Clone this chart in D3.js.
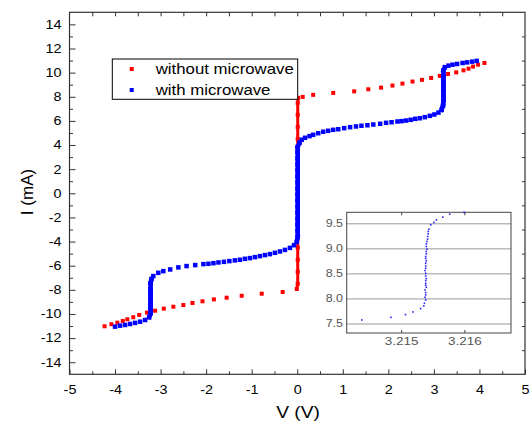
<!DOCTYPE html>
<html>
<head>
<meta charset="utf-8">
<script src="https://cdn.jsdelivr.net/npm/d3@7"></script>
<style>
  body { margin: 0; background: #fff; }
  text { font-family: "Liberation Sans", Arial, sans-serif; }
</style>
</head>
<body>
<svg id="chart" width="530" height="428"></svg>
<script>
'use strict';

// tick labels
const xTickVals = [-5, -4, -3, -2, -1, 0, 1, 2, 3, 4, 5];
const yTickVals = [-14, -12, -10, -8, -6, -4, -2, 0, 2, 4, 6, 8, 10, 12, 14];
const seriesNames = ['without microwave', 'with microwave'];

// without microwave (red)
const redV = [-4.23, -4.08, -3.95, -3.83, -3.73, -3.60, -3.47, -3.30, -3.12, -2.93, -2.72, -2.50, -2.30, -2.08,
  -1.83, -1.55, -1.22, -0.78, -0.32, -0.01,
  0.01, 0.01, 0.01, 0.01, 0.01, 0.01, 0.01, 0.01, 0.01, 0.01, 0.01, 0.01, 0.01, 0.01, 0.01, 0.01, 0.02,
  0.12, 0.35, 0.79, 1.25, 1.56, 1.84, 2.09, 2.31, 2.53, 2.74, 2.94, 3.13, 3.31, 3.49, 3.65, 3.76, 3.86, 3.97, 4.11];
const redI = [-11.02, -10.85, -10.72, -10.58, -10.44, -10.27, -10.08, -9.89, -9.73, -9.56, -9.40, -9.26, -9.09, -8.95,
  -8.79, -8.65, -8.49, -8.32, -8.18, -7.93,
  -7.5, -6.5, -5.5, -4.5, -3.5, -2.5, -1.5, -0.5, 0.5, 1.5, 2.5, 3.5, 4.5, 5.5, 6.5, 7.5, 7.91,
  7.99, 8.16, 8.32, 8.45, 8.62, 8.76, 8.93, 9.09, 9.26, 9.40, 9.56, 9.73, 9.89, 10.02, 10.19, 10.33, 10.50, 10.66, 10.80];

// with microwave (blue)
const blueV = [-4.00, -3.89, -3.78, -3.67, -3.56, -3.45, -3.34, -3.25,
  -3.22, -3.22, -3.22, -3.22, -3.22, -3.22, -3.22,
  -3.20, -3.16, -3.05, -2.94, -2.79, -2.61, -2.43, -2.24, -2.06, -1.95, -1.84, -1.73, -1.61, -1.49, -1.37,
  -1.26, -1.15, -1.04, -0.93, -0.82, -0.71, -0.60, -0.49, -0.38, -0.27, -0.16, -0.07, -0.01,
  0.01, 0.01, 0.01, 0.01, 0.01, 0.01, 0.01, 0.01, 0.01, 0.01, 0.01, 0.01, 0.01, 0.01, 0.01, 0.01,
  0.05, 0.10, 0.17, 0.27, 0.35, 0.46, 0.57, 0.68, 0.79, 0.90, 1.03, 1.16, 1.29, 1.41, 1.54, 1.67, 1.82,
  1.95, 2.07, 2.20, 2.29, 2.39, 2.49, 2.59, 2.69, 2.80, 2.91, 3.01, 3.10, 3.17, 3.20,
  3.21, 3.21, 3.21, 3.21, 3.21, 3.21, 3.21,
  3.24, 3.32, 3.41, 3.51, 3.63, 3.73, 3.84, 3.94];
const blueI = [-11.05, -10.97, -10.91, -10.83, -10.74, -10.64, -10.50, -10.27,
  -9.94, -9.55, -9.15, -8.75, -8.35, -7.95, -7.46,
  -7.11, -6.86, -6.59, -6.45, -6.31, -6.14, -6.03, -5.95, -5.87, -5.84, -5.79, -5.73, -5.68, -5.62, -5.56,
  -5.51, -5.43, -5.37, -5.29, -5.21, -5.12, -5.04, -4.93, -4.82, -4.69, -4.52, -4.30, -4.02,
  -3.61, -3.1, -2.6, -2.1, -1.6, -1.1, -0.6, -0.1, 0.4, 0.9, 1.4, 1.9, 2.4, 2.9, 3.4, 3.83,
  4.19, 4.44, 4.60, 4.74, 4.85, 4.98, 5.10, 5.18, 5.26, 5.31, 5.40, 5.48, 5.54, 5.60, 5.64, 5.70, 5.76,
  5.84, 5.89, 5.95, 5.98, 6.03, 6.09, 6.17, 6.22, 6.31, 6.42, 6.53, 6.69, 6.92, 7.27,
  7.7, 8.1, 8.5, 8.9, 9.3, 9.7, 10.17,
  10.44, 10.58, 10.66, 10.72, 10.80, 10.85, 10.91, 10.97];

// inset: zoom on the jump near 3.215 V
const insetV = [3.21437, 3.21483, 3.21506, 3.21518, 3.21530, 3.21535, 3.21536, 3.21538, 3.21537, 3.21538,
  3.21538, 3.21537, 3.21539, 3.21538, 3.21538, 3.21538, 3.21539, 3.21538, 3.21538, 3.21537, 3.21538,
  3.21538, 3.21538, 3.21539, 3.21538, 3.21538, 3.21539, 3.21539, 3.21540, 3.21539, 3.21539, 3.21540,
  3.21541, 3.21541, 3.21542, 3.21542, 3.21543, 3.21546, 3.21551, 3.21555, 3.21565, 3.21576, 3.21599];
const insetI = [7.580, 7.633, 7.687, 7.740, 7.807, 7.860, 7.913, 7.980, 8.033, 8.080,
  8.127, 8.180, 8.233, 8.273, 8.313, 8.367, 8.407, 8.460, 8.513, 8.567, 8.613,
  8.660, 8.713, 8.760, 8.807, 8.847, 8.900, 8.947, 8.993, 9.047, 9.100, 9.147,
  9.193, 9.247, 9.300, 9.347, 9.393, 9.480, 9.527, 9.580, 9.633, 9.693, 9.727];
const insetXTicks = [3.215, 3.216];
const insetYTicks = [7.5, 8.0, 8.5, 9.0, 9.5];

const SX = 1.2; // text in the picture is a little wider than tall

const svg = d3.select('#chart');
const x = d3.scaleLinear().domain([-5, 5]).range([69.5, 525]);
const y = d3.scaleLinear().domain([-15, 15]).range([374.3, 12.3]);

function stretch(sel, k) {
  sel.each(function () {
    const t = d3.select(this);
    const tx = +t.attr('x') || 0;
    t.attr('x', tx / k).attr('transform', `scale(${k},1)`);
  });
}

function styleAxis(g) {
  g.select('.domain').remove();
  g.selectAll('line').attr('stroke', '#333').attr('stroke-width', 1);
  g.selectAll('text').attr('fill', '#000').attr('font-size', 12);
}

const fmt = (d) => String(d);

// bottom
svg.append('g').attr('transform', `translate(0,${y(-15)})`)
  .call(d3.axisBottom(x).tickValues(d3.range(-4.5, 5, 1)).tickSizeInner(-3).tickSizeOuter(0).tickFormat(''))
  .call(styleAxis);
const gx = svg.append('g').attr('transform', `translate(0,${y(-15)})`)
  .call(d3.axisBottom(x).tickValues(xTickVals).tickSizeInner(-5).tickSizeOuter(0).tickPadding(11).tickFormat(fmt))
  .call(styleAxis);
stretch(gx.selectAll('text'), SX);

// left
svg.append('g').attr('transform', `translate(${x(-5)},0)`)
  .call(d3.axisLeft(y).tickValues(d3.range(-13, 15, 2)).tickSizeInner(-3.5).tickSizeOuter(0).tickFormat(''))
  .call(styleAxis);
const gy = svg.append('g').attr('transform', `translate(${x(-5)},0)`)
  .call(d3.axisLeft(y).tickValues(yTickVals).tickSizeInner(-6).tickSizeOuter(0).tickPadding(8).tickFormat(fmt))
  .call(styleAxis);
stretch(gy.selectAll('text'), SX);

// top and right, no labels
svg.append('g').attr('transform', `translate(0,${y(15)})`)
  .call(d3.axisTop(x).tickValues(d3.range(-4.5, 5, 0.5)).tickSizeInner(-4).tickSizeOuter(0).tickFormat(''))
  .call(styleAxis);
svg.append('g').attr('transform', `translate(${x(5)},0)`)
  .call(d3.axisRight(y).tickValues(d3.range(-13, 15, 2)).tickSizeInner(-3).tickSizeOuter(0).tickFormat(''))
  .call(styleAxis);

svg.append('rect')
  .attr('x', x(-5)).attr('y', y(15))
  .attr('width', x(5) - x(-5)).attr('height', y(-15) - y(15))
  .attr('fill', 'none').attr('stroke', '#333').attr('stroke-width', 1.2);

// axis titles
svg.append('text')
  .attr('x', 298 / SX).attr('y', 418)
  .attr('transform', `scale(${SX},1)`)
  .attr('text-anchor', 'middle').attr('font-size', 16)
  .text('V (V)');
svg.append('text')
  .attr('transform', 'translate(33,192) rotate(-90)')
  .attr('text-anchor', 'middle').attr('font-size', 17)
  .text('I (mA)');

// series
const plot = svg.append('g');

function drawSeries(vs, is, color, size, lw) {
  const pts = vs.map((v, i) => [x(v), y(is[i])]);
  // steep runs are dense in the data, draw them as a solid stroke
  const steep = d3.pairs(pts).filter(([a, b]) => Math.abs(b[1] - a[1]) > 2 * Math.abs(b[0] - a[0]));
  plot.append('g').selectAll('line').data(steep).join('line')
    .attr('x1', (d) => d[0][0]).attr('y1', (d) => d[0][1])
    .attr('x2', (d) => d[1][0]).attr('y2', (d) => d[1][1])
    .attr('stroke', color).attr('stroke-width', lw).attr('stroke-linecap', 'square');
  plot.append('g').selectAll('rect').data(pts).join('rect')
    .attr('x', (d) => d[0] - size / 2).attr('y', (d) => d[1] - size / 2)
    .attr('width', size).attr('height', size)
    .attr('fill', color);
}

drawSeries(redV, redI, '#ff0000', 4, 3);
drawSeries(blueV, blueI, '#0000ff', 4.5, 4.5);

// legend
const leg = svg.append('g');
leg.append('rect')
  .attr('x', 112.3).attr('y', 59).attr('width', 185.4).attr('height', 40.3)
  .attr('fill', '#fff').attr('stroke', '#000').attr('stroke-width', 1);
[['#ff0000', 69, 74.3], ['#0000ff', 90, 95]].forEach(([c, my, ty], i) => {
  leg.append('rect').attr('x', 129.7).attr('y', my - 2).attr('width', 4).attr('height', 4).attr('fill', c);
  leg.append('text')
    .attr('x', 155.7 / SX).attr('y', ty)
    .attr('transform', `scale(${SX},1)`)
    .attr('font-size', 14)
    .text(seriesNames[i]);
});

// inset
const ix = d3.scaleLinear().domain([3.21413, 3.21673]).range([346.7, 511]);
const iy = d3.scaleLinear().domain([7.32, 9.73]).range([333, 212.3]);
const inset = svg.append('g');
inset.append('rect')
  .attr('x', ix.range()[0]).attr('y', iy.range()[1])
  .attr('width', ix.range()[1] - ix.range()[0]).attr('height', iy.range()[0] - iy.range()[1])
  .attr('fill', '#fff');
inset.append('g').selectAll('line').data(insetYTicks).join('line')
  .attr('x1', ix.range()[0]).attr('x2', ix.range()[1])
  .attr('y1', (d) => iy(d)).attr('y2', (d) => iy(d))
  .attr('stroke', '#999').attr('stroke-width', 1);
inset.append('g').selectAll('line').data(insetXTicks).join('line')
  .attr('x1', (d) => ix(d)).attr('x2', (d) => ix(d))
  .attr('y1', iy.range()[0]).attr('y2', iy.range()[0] - 3)
  .attr('stroke', '#444');
inset.append('g').selectAll('line').data(insetXTicks).join('line')
  .attr('x1', (d) => ix(d)).attr('x2', (d) => ix(d))
  .attr('y1', iy.range()[1]).attr('y2', iy.range()[1] + 3)
  .attr('stroke', '#444');
inset.append('rect')
  .attr('x', ix.range()[0]).attr('y', iy.range()[1])
  .attr('width', ix.range()[1] - ix.range()[0]).attr('height', iy.range()[0] - iy.range()[1])
  .attr('fill', 'none').attr('stroke', '#444').attr('stroke-width', 1);
inset.append('g').selectAll('text').data(insetYTicks).join('text')
  .attr('x', 343 / 1.25).attr('y', (d) => iy(d) + 3.5)
  .attr('transform', 'scale(1.25,1)')
  .attr('text-anchor', 'end').attr('font-size', 10).attr('fill', '#555')
  .text((d) => d.toFixed(1));
inset.append('g').selectAll('text').data(insetXTicks).join('text')
  .attr('x', (d) => ix(d) / 1.35).attr('y', 345)
  .attr('transform', 'scale(1.35,1)')
  .attr('text-anchor', 'middle').attr('font-size', 10).attr('fill', '#555')
  .text((d) => d.toFixed(3));
inset.append('g').selectAll('rect').data(insetV.map((v, i) => [ix(v), iy(insetI[i])])).join('rect')
  .attr('x', (d) => d[0] - 0.8).attr('y', (d) => d[1] - 0.8)
  .attr('width', 1.6).attr('height', 1.6)
  .attr('fill', '#0000ff').attr('opacity', 0.85);
</script>
</body>
</html>
